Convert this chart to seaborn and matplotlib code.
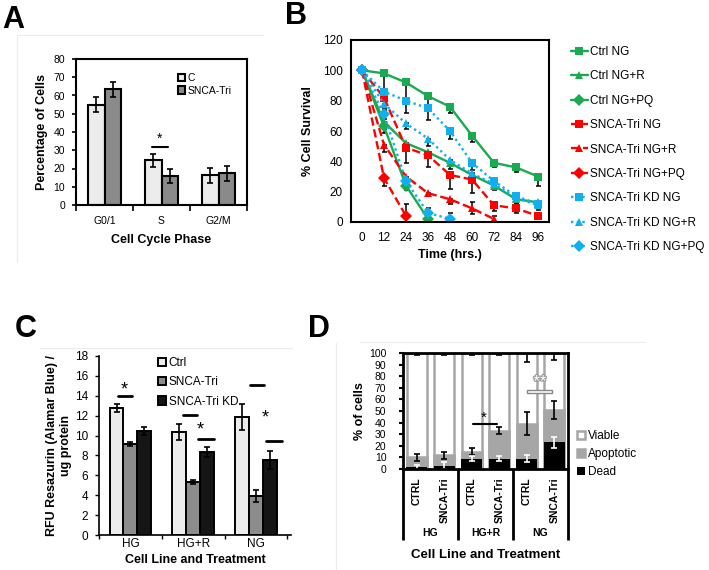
import pandas as pd
import seaborn as sns
import matplotlib.pyplot as plt
import matplotlib.patheffects as pe
from matplotlib.lines import Line2D
from matplotlib.patches import Rectangle

# ---------------- data ----------------
# A - cell cycle phase distribution
phases = ["G0/1", "S", "G2/M"]
a_groups = ["C", "SNCA-Tri"]
a_ctrl = [55.0, 24.5, 16.3]
a_tri = [63.3, 15.8, 17.3]
a_ctrl_err = [4.0, 3.5, 4.0]
a_tri_err = [4.0, 4.0, 4.0]

# B - survival over time
hours = [0, 12, 24, 36, 48, 60, 72, 84, 96]
b_labels = ["Ctrl NG", "Ctrl NG+R", "Ctrl NG+PQ",
            "SNCA-Tri NG", "SNCA-Tri NG+R", "SNCA-Tri NG+PQ",
            "SNCA-Tri KD NG", "SNCA-Tri KD NG+R", "SNCA-Tri KD NG+PQ"]
ctrl_ng = [100, 98, 92, 83, 76, 57, 39, 36, 30]
ctrl_ng_r = [100, 66, 52, 46, 39, 31, 24, 15, 13]
ctrl_ng_pq = [100, 63, 24, 2]
tri_ng = [100, 82, 49, 44, 31, 28, 11, 9, 4]
tri_ng_r = [100, 51, 30, 19, 15, 9, 2]
tri_ng_pq = [100, 29, 4]
kd_ng = [100, 86, 80, 75, 60, 39, 27, 17, 12]
kd_ng_r = [100, 78, 65, 55, 41, 32, 25, 16, 11]
kd_ng_pq = [100, 71, 27, 6, 2]
ctrl_ng_err = [0, 16, 12, 8, 4, 4, 3, 3, 6]
ctrl_ng_r_err = [0, 5, 4, 4, 4, 3, 3, 3, 3]
ctrl_ng_pq_err = [0, 4, 3, 5]
tri_ng_err = [0, 8, 10, 8, 9, 9, 4, 3, 2]
tri_ng_r_err = [0, 5, 3, 2, 3, 4, 2]
tri_ng_pq_err = [0, 5, 8]
kd_ng_err = [0, 4, 8, 8, 5, 5, 4, 3, 3]
kd_ng_r_err = [0, 3, 4, 5, 4, 4, 3, 3, 3]
kd_ng_pq_err = [0, 3, 5, 3, 4]

# C - resazurin signal
treatments = ["HG", "HG+R", "NG"]
c_groups = ["Ctrl", "SNCA-Tri", "SNCA-Tri KD"]
c_ctrl = [12.8, 10.4, 11.9]
c_tri = [9.2, 5.3, 3.9]
c_kd = [10.5, 8.3, 7.5]
c_ctrl_err = [0.4, 0.8, 1.3]
c_tri_err = [0.2, 0.2, 0.6]
c_kd_err = [0.4, 0.5, 0.9]

# D - viability fractions (%)
d_lines = ["CTRL", "SNCA-Tri", "CTRL", "SNCA-Tri", "CTRL", "SNCA-Tri"]
d_treat = ["HG", "HG", "HG+R", "HG+R", "NG", "NG"]
d_dead = [1.5, 3, 9, 9, 9, 23]
d_apoptotic = [8.5, 9, 6, 24, 30, 28]
d_viable = [90, 88, 85, 67, 61, 49]
d_dead_err = [2, 3, 2, 2, 3, 5]
d_apop_err = [3, 3, 3, 3, 10, 8]
d_viable_err = [2, 2, 2, 2, 8, 6]

# ---------------- style ----------------
sns.set_style("ticks", rc={"axes.edgecolor": "black", "xtick.color": "black",
                           "ytick.color": "black", "text.color": "black",
                           "axes.labelcolor": "black"})
plt.rcParams["font.family"] = ["Liberation Sans", "DejaVu Sans"]

fig = plt.figure(figsize=(7.09, 5.70), dpi=100)
W, H = 709, 570


def box(x0, y0, x1, y1):
    return [x0 / W, 1 - y1 / H, (x1 - x0) / W, (y1 - y0) / H]


# faint frame lines of the original panels
for (x0, y0, x1, y1) in [(17, 35, 263, 35), (17, 35, 17, 262), (40, 348, 292, 348),
                         (360, 342, 645, 342), (336, 343, 336, 570)]:
    fig.add_artist(Line2D([x0 / W, x1 / W], [1 - y0 / H, 1 - y1 / H],
                          color="#ececec", lw=0.8))

for letter, (x, y) in zip("ABCD", [(13, 20), (296, 16), (26, 329), (319, 329)]):
    fig.text(x / W, 1 - y / H, letter, fontsize=22, fontweight="bold",
             ha="center", va="center")

# ---------------- A ----------------
ax = fig.add_axes(box(76, 59, 247, 205))
df_a = pd.DataFrame({"phase": phases * 2,
                     "group": [a_groups[0]] * 3 + [a_groups[1]] * 3,
                     "pct": a_ctrl + a_tri})
sns.barplot(data=df_a, x="phase", y="pct", hue="group", hue_order=a_groups,
            palette={"C": "#ececec", "SNCA-Tri": "#8a8a8a"}, saturation=1,
            edgecolor="black", linewidth=1.5, width=0.58, errorbar=None,
            legend=False, ax=ax)
bars = list(ax.containers)
for cont, err in zip(bars, [a_ctrl_err, a_tri_err]):
    xs = [p.get_x() + p.get_width() / 2 for p in cont.patches]
    ys = [p.get_height() for p in cont.patches]
    ax.errorbar(xs, ys, yerr=err, fmt="none", ecolor="black", elinewidth=1.2,
                capsize=2.5, capthick=1.2)
ax.plot([0.83, 1.11], [31.8, 31.8], color="black", lw=1.5)
ax.text(0.97, 36.5, "*", ha="center", va="center", fontsize=10)
ax.set_ylim(0, 80)
ax.set_yticks(range(0, 81, 10))
ax.set_xticks([-0.5, 0.5, 1.5, 2.5], minor=True)
ax.tick_params(axis="x", which="major", length=0, pad=8, labelsize=7.5)
ax.tick_params(axis="x", which="minor", length=4, width=1.2)
ax.tick_params(axis="y", length=3, width=1.2, pad=5, labelsize=7.5)
ax.set_xlabel("Cell Cycle Phase", fontsize=9, fontweight="bold", labelpad=6)
ax.set_ylabel("Percentage of Cells", fontsize=9, fontweight="bold", labelpad=4)
for s in ax.spines.values():
    s.set_linewidth(1.5)
fig.legend(bars, a_groups, loc="upper left", bbox_to_anchor=(178 / W, 1 - 73 / H),
           frameon=False, fontsize=7.5, borderpad=0, borderaxespad=0,
           handlelength=0.7, handleheight=0.7, handletextpad=0.2, labelspacing=0.25)

# ---------------- B ----------------
ax = fig.add_axes(box(351, 40, 549, 222))
b_values = [ctrl_ng, ctrl_ng_r, ctrl_ng_pq, tri_ng, tri_ng_r, tri_ng_pq,
            kd_ng, kd_ng_r, kd_ng_pq]
b_errs = [ctrl_ng_err, ctrl_ng_r_err, ctrl_ng_pq_err, tri_ng_err, tri_ng_r_err,
          tri_ng_pq_err, kd_ng_err, kd_ng_r_err, kd_ng_pq_err]
green, red, cyan = "#1aaa50", "#ff0000", "#10b0ee"
b_colors = [green] * 3 + [red] * 3 + [cyan] * 3
b_markers = ["s", "^", "D"] * 3
b_dashes = [""] * 3 + [(3.5, 1.6)] * 3 + [(1, 1.4)] * 3
rows = []
for name, vals in zip(b_labels, b_values):
    for h, v in zip(hours, vals):
        rows.append({"hour": h, "pct": v, "series": name})
df_b = pd.DataFrame(rows)
for vals, errs in zip(b_values, b_errs):
    upper = [e if v < 10 else 0 for v, e in zip(vals, errs)]
    ax.errorbar(hours[:len(vals)], vals, yerr=[errs, upper], fmt="none",
                ecolor="black", elinewidth=1.1, capsize=1.8, capthick=1.1, zorder=1.5)
sns.lineplot(data=df_b, x="hour", y="pct", hue="series", style="series",
             hue_order=b_labels, style_order=b_labels,
             palette=dict(zip(b_labels, b_colors)),
             markers=dict(zip(b_labels, b_markers)),
             dashes=dict(zip(b_labels, b_dashes)),
             markersize=6, markeredgewidth=0, linewidth=1.7,
             sort=False, errorbar=None, ax=ax)
leg = ax.get_legend()
handles = leg.legend_handles
labels = [t.get_text() for t in leg.get_texts()]
leg.remove()
fig.legend(handles, labels, loc="upper left", bbox_to_anchor=(571 / W, 1 - 46 / H),
           frameon=False, fontsize=8.5, borderpad=0, borderaxespad=0,
           handlelength=1.4, handletextpad=0.25, labelspacing=1.05)
ax.set_xlim(-6, 102)
ax.set_ylim(0, 120)
ax.set_xticks(hours)
ax.set_yticks(range(0, 121, 20))
ax.tick_params(axis="x", length=0, pad=7, labelsize=8.5)
ax.tick_params(axis="y", length=0, pad=6, labelsize=8.5)
ax.set_xlabel("Time (hrs.)", fontsize=9, fontweight="bold", labelpad=4)
ax.set_ylabel("% Cell Survival", fontsize=9, fontweight="bold", labelpad=6)
for s in ax.spines.values():
    s.set_linewidth(1.5)

# ---------------- C ----------------
ax = fig.add_axes(box(99, 356, 291, 535))
df_c = pd.DataFrame({"treat": treatments * 3,
                     "group": sum([[g] * 3 for g in c_groups], []),
                     "rfu": c_ctrl + c_tri + c_kd})
sns.barplot(data=df_c, x="treat", y="rfu", hue="group", hue_order=c_groups,
            palette=dict(zip(c_groups, ["#ececec", "#8c8c8c", "#151515"])),
            saturation=1, edgecolor="black", linewidth=1.4, width=0.66,
            errorbar=None, legend=False, ax=ax)
bars = list(ax.containers)
for cont, err in zip(bars, [c_ctrl_err, c_tri_err, c_kd_err]):
    xs = [p.get_x() + p.get_width() / 2 for p in cont.patches]
    ys = [p.get_height() for p in cont.patches]
    ax.errorbar(xs, ys, yerr=err, fmt="none", ecolor="black", elinewidth=1.2,
                capsize=2.5, capthick=1.2)
for x0, x1, y in [(-0.2, 0.03, 14.0), (0.83, 1.06, 12.1), (1.08, 1.33, 9.7),
                  (1.91, 2.13, 15.1), (2.16, 2.42, 9.5)]:
    ax.plot([x0, x1], [y, y], color="black", lw=2)
for x, y in [(-0.09, 14.6), (1.11, 10.6), (2.14, 11.8)]:
    ax.text(x, y, "*", ha="center", va="center", fontsize=13)
ax.set_ylim(0, 18)
ax.set_yticks(range(0, 19, 2))
ax.set_xticks([-0.5, 0.5, 1.5, 2.5], minor=True)
ax.tick_params(axis="x", which="major", length=0, pad=2, labelsize=8.5)
ax.tick_params(axis="x", which="minor", length=3, width=1)
ax.tick_params(axis="y", length=3, width=1, pad=5, labelsize=8.5)
ax.set_xlabel("Cell Line and Treatment", fontsize=9, fontweight="bold", labelpad=3)
ax.set_ylabel("RFU Resazurin (Alamar Blue) /\nug protein", fontsize=9,
              fontweight="bold", labelpad=2)
sns.despine(ax=ax)
for s in ax.spines.values():
    s.set_linewidth(1.2)
fig.legend(bars, c_groups, loc="upper left", bbox_to_anchor=(158 / W, 1 - 357 / H),
           frameon=False, fontsize=8.5, borderpad=0, borderaxespad=0,
           handlelength=0.7, handleheight=0.7, handletextpad=0.2, labelspacing=0.62)

# ---------------- D ----------------
ax = fig.add_axes(box(403, 353, 568, 469))
d_keys = [t + " " + c for t, c in zip(d_treat, d_lines)]
d_cum_apop = [a + b for a, b in zip(d_dead, d_apoptotic)]
d_total = [a + b for a, b in zip(d_cum_apop, d_viable)]
# stacked look: draw cumulative totals back to front
sns.barplot(x=d_keys, y=d_total, color="white", edgecolor="#a6a6a6", linewidth=1.8,
            saturation=1, width=0.72, errorbar=None, ax=ax)
sns.barplot(x=d_keys, y=d_cum_apop, color="#a6a6a6", edgecolor="#a6a6a6",
            linewidth=1.8, saturation=1, width=0.72, errorbar=None, ax=ax)
sns.barplot(x=d_keys, y=d_dead, color="black", edgecolor="black", linewidth=0,
            saturation=1, width=0.77, errorbar=None, ax=ax)
bars = list(ax.containers)
xs = list(range(len(d_keys)))
ax.errorbar(xs, d_total, yerr=d_viable_err, fmt="none", ecolor="black",
            elinewidth=1.2, capsize=2, capthick=1.2)
ax.errorbar(xs, d_cum_apop, yerr=d_apop_err, fmt="none", ecolor="black",
            elinewidth=1.2, capsize=2, capthick=1.2)
ax.errorbar(xs, d_dead, yerr=d_dead_err, fmt="none", ecolor="white",
            elinewidth=1.2, capsize=2, capthick=1.2)
ax.plot([2.05, 2.92], [38.6, 38.6], color="black", lw=1.5)
ax.text(2.45, 44.5, "*", ha="center", va="center", fontsize=11)
ax.add_patch(Rectangle((4.02, 65.2), 0.9, 2.6, facecolor="white",
                       edgecolor="#888888", lw=1))
ax.text(4.48, 75, "**", ha="center", va="center", fontsize=12, color="white",
        path_effects=[pe.withStroke(linewidth=1.6, foreground="#999999")])
ax.set_ylim(0, 100)
ax.set_xlim(-0.5, 5.5)
ax.set_yticks(range(0, 101, 10))
ax.set_xticks(xs)
ax.set_xticklabels(d_lines, rotation=90, fontweight="bold")
ax.tick_params(axis="x", length=0, pad=6, labelsize=7.5)
ax.tick_params(axis="y", length=3, width=1.5, pad=9, labelsize=7.5)
ax.set_xlabel("")
ax.set_ylabel("% of cells", fontsize=9, fontweight="bold", labelpad=2)
for s in ax.spines.values():
    s.set_linewidth(2)
trans = ax.get_xaxis_transform()
for xb in [-0.5, 1.5, 3.5, 5.5]:
    ax.plot([xb, xb], [0, -0.61], transform=trans, color="black", lw=2,
            clip_on=False, solid_capstyle="butt")
for xc, t in zip([0.5, 2.5, 4.5], treatments):
    ax.text(xc, -0.55, t, transform=trans, ha="center", va="center",
            fontsize=7.5, fontweight="bold")
ax.text(0.5, -0.74, "Cell Line and Treatment", transform=ax.transAxes,
        ha="center", va="center", fontsize=9.5, fontweight="bold")
fig.legend(bars, ["Viable", "Apoptotic", "Dead"], loc="upper left",
           bbox_to_anchor=(577 / W, 1 - 430 / H), frameon=False, fontsize=8.5,
           borderpad=0, borderaxespad=0, handlelength=0.7, handleheight=0.7,
           handletextpad=0.2, labelspacing=0.5)

fig.savefig("out.png", dpi=100)
